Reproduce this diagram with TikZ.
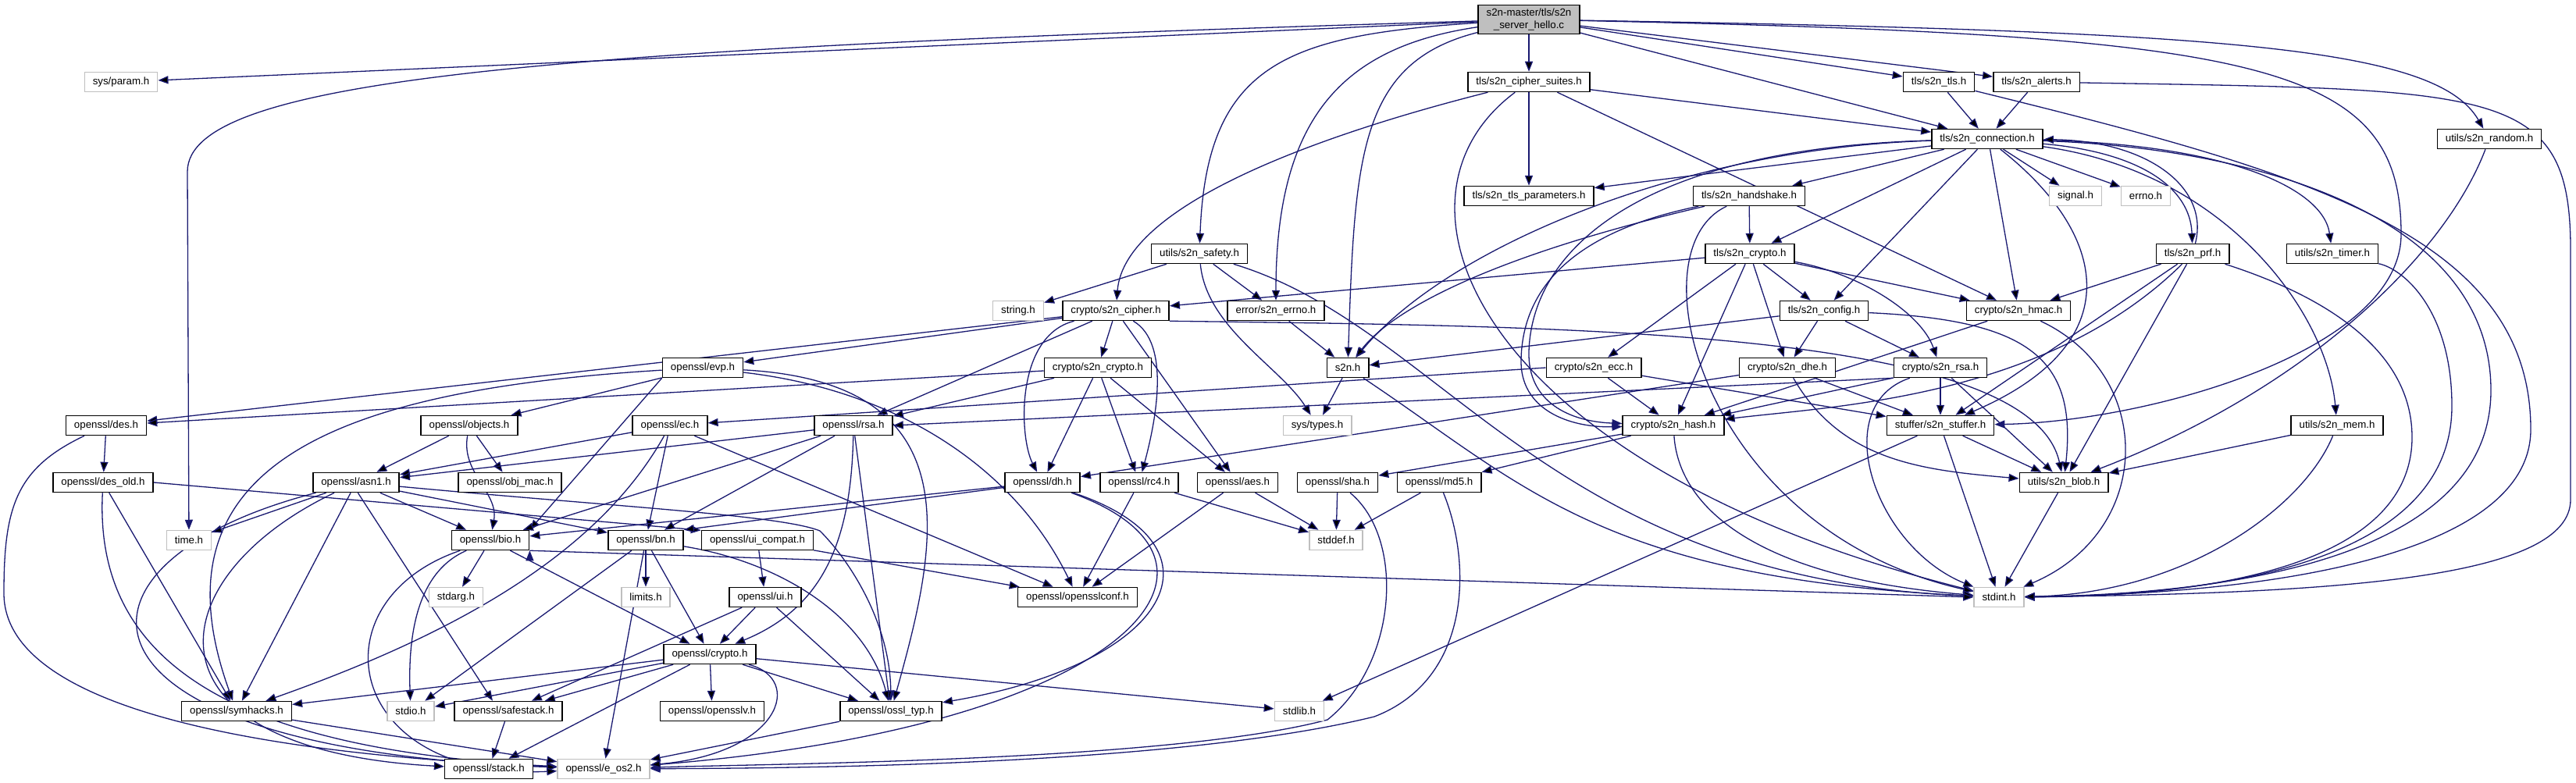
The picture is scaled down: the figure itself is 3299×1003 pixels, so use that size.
\documentclass[tikz,border=0pt]{standalone}
\usepackage{fontspec}
\newfontfamily\dotfont{Liberation Sans}
\usetikzlibrary{arrows.meta}

\definecolor{edgeblue}{HTML}{191970}
\definecolor{boxgray}{HTML}{BFBFBF}
\pgfdeclarelayer{back}
\pgfsetlayers{back,main}

\begin{document}
\begin{tikzpicture}[x=1pt, y=-1pt,
	file/.style={draw=black, fill=white, line width=1.5pt, minimum height=25pt,
		inner xsep=10.5pt, inner ysep=0pt, font=\dotfont\fontsize{13.3}{15.5}\selectfont},
	sys/.style={file, draw=boxgray},
	inc/.style={draw=edgeblue, line width=1.3pt, -{Triangle[length=13pt, width=10pt]}},
	via/.style 2 args={to path={.. controls #1 and #2 .. (\tikztotarget)}}]

	\useasboundingbox (0,0) rectangle (3299,1003);

	\node[file, fill=boxgray, align=center, minimum height=37pt] (root) at (1958,25) {s2n-master/tls/s2n\\\_server\_hello.c};

	\node[sys] (param) at (155,105) {sys/param.h};
	\node[file] (suites) at (1958,105) {tls/s2n\_cipher\_suites.h};
	\node[file] (tls) at (2483,105) {tls/s2n\_tls.h};
	\node[file] (alerts) at (2608,105) {tls/s2n\_alerts.h};
	\node[file] (conn) at (2545,178) {tls/s2n\_connection.h};
	\node[file] (random) at (3188,178) {utils/s2n\_random.h};
	\node[file] (params) at (1958,251) {tls/s2n\_tls\_parameters.h};
	\node[file] (handshake) at (2240,251) {tls/s2n\_handshake.h};
	\node[sys] (signal) at (2658,251) {signal.h};
	\node[sys] (errno) at (2748,251) {errno.h};
	\node[file] (safety) at (1536,325) {utils/s2n\_safety.h};
	\node[file] (tcrypto) at (2241,325) {tls/s2n\_crypto.h};
	\node[file] (prf) at (2808,325) {tls/s2n\_prf.h};
	\node[file] (timer) at (2987,325) {utils/s2n\_timer.h};
	\node[sys] (string) at (1304,398) {string.h};
	\node[file] (cipher) at (1429,398) {crypto/s2n\_cipher.h};
	\node[file] (errcode) at (1634,398) {error/s2n\_errno.h};
	\node[file] (config) at (2336,398) {tls/s2n\_config.h};
	\node[file] (hmac) at (2585,398) {crypto/s2n\_hmac.h};
	\node[file] (evp) at (900,471) {openssl/evp.h};
	\node[file] (ccrypto) at (1406,471) {crypto/s2n\_crypto.h};
	\node[file] (s2n) at (1726,471) {s2n.h};
	\node[file] (ecc) at (2041,471) {crypto/s2n\_ecc.h};
	\node[file] (dhe) at (2289,471) {crypto/s2n\_dhe.h};
	\node[file] (rsakey) at (2485,471) {crypto/s2n\_rsa.h};
	\node[file] (des) at (136,545) {openssl/des.h};
	\node[file] (objects) at (601,545) {openssl/objects.h};
	\node[file] (ec) at (858,545) {openssl/ec.h};
	\node[file] (rsa) at (1093,545) {openssl/rsa.h};
	\node[sys] (types) at (1687,545) {sys/types.h};
	\node[file] (hash) at (2143,545) {crypto/s2n\_hash.h};
	\node[file] (stuffer) at (2485,545) {stuffer/s2n\_stuffer.h};
	\node[file] (mem) at (2993,545) {utils/s2n\_mem.h};
	\node[file] (desold) at (132,618) {openssl/des\_old.h};
	\node[file] (asn1) at (456,618) {openssl/asn1.h};
	\node[file] (objmac) at (653,618) {openssl/obj\_mac.h};
	\node[file] (dh) at (1335,618) {openssl/dh.h};
	\node[file] (rc4) at (1459,618) {openssl/rc4.h};
	\node[file] (aes) at (1585,618) {openssl/aes.h};
	\node[file] (sha) at (1713,618) {openssl/sha.h};
	\node[file] (md5) at (1843,618) {openssl/md5.h};
	\node[file] (blob) at (2643,618) {utils/s2n\_blob.h};
	\node[sys] (time) at (242,692) {time.h};
	\node[file] (bio) at (628,692) {openssl/bio.h};
	\node[file] (bn) at (827,692) {openssl/bn.h};
	\node[file] (uicompat) at (970,692) {openssl/ui\_compat.h};
	\node[sys] (stddef) at (1711,692) {stddef.h};
	\node[sys] (stdarg) at (584,765) {stdarg.h};
	\node[sys] (limits) at (827,765) {limits.h};
	\node[file] (ui) at (980,765) {openssl/ui.h};
	\node[file] (conf) at (1380,765) {openssl/opensslconf.h};
	\node[sys] (stdint) at (2560,765) {stdint.h};
	\node[file] (ocrypto) at (909,838) {openssl/crypto.h};
	\node[file] (symhacks) at (303,911) {openssl/symhacks.h};
	\node[sys] (stdio) at (526,911) {stdio.h};
	\node[file] (safestack) at (651,911) {openssl/safestack.h};
	\node[file] (opensslv) at (912,911) {openssl/opensslv.h};
	\node[file] (ossltyp) at (1141,911) {openssl/ossl\_typ.h};
	\node[sys] (stdlib) at (1664,911) {stdlib.h};
	\node[file] (stack) at (626,985) {openssl/stack.h};
	\node[sys] (eos2) at (773,985) {openssl/e\_os2.h};

	\begin{pgfonlayer}{back}
	\draw[inc] (root) .. controls (700,62) and (240,100) .. (240,220) -- (time);
	\draw[inc] (root) .. controls (2900,45) and (3075,80) .. (3075,300) .. controls (3075,450) and (2750,540) .. (stuffer);
	\draw[inc] (tls) .. controls (2950,220) and (3241,300) .. (3241,550) .. controls (3241,700) and (2950,760) .. (stdint);
	\draw[inc] (alerts) .. controls (3200,115) and (3292,110) .. (3292,320) -- (3292,640) .. controls (3292,740) and (3000,760) .. (stdint);
	\draw[inc] (conn) .. controls (2900,190) and (3190,280) .. (3190,500) .. controls (3190,700) and (2900,760) .. (stdint);
	\draw[inc] (timer) .. controls (3080,345) and (3140,400) .. (3140,520) .. controls (3140,700) and (2900,762) .. (stdint);
	\draw[inc] (prf) .. controls (2980,380) and (3089,450) .. (3089,560) .. controls (3089,700) and (2900,763) .. (stdint);
	\draw[inc] (conn) .. controls (2100,190) and (1962,320) .. (1958,450) .. controls (1956,515) and (2010,540) .. (hash);
	\draw[inc] (handshake) .. controls (2000,300) and (1950,380) .. (1948,460) .. controls (1946,525) and (2010,548) .. (hash);
	\draw[inc] (des) .. controls (20,600) and (5,650) .. (5,760) .. controls (5,900) and (300,965) .. (eos2);
	\draw[inc] (sha) .. controls (1800,690) and (1790,850) .. (1700,922) .. controls (1500,975) and (1000,978) .. (eos2);
	\draw[inc] (md5) .. controls (1885,720) and (1885,870) .. (1760,918) .. controls (1500,982) and (1000,984) .. (eos2);
	\draw[inc] (asn1) .. controls (800,650) and (1000,660) .. (1050,680) .. controls (1090,720) and (1140,800) .. (ossltyp);

	\draw[inc]
	(root) edge (param)
	(root) edge[via={(1650,45)}{(1545,80)}] (safety)
	(root) edge[via={(1720,60)}{(1634,150)}] (errcode)
	(root) edge[via={(1740,80)}{(1735,200)}] (s2n)
	(root) edge (suites)
	(root) edge (tls)
	(root) edge (alerts)
	(root) edge (conn)
	(root) edge[via={(2850,40)}{(3120,60)}] (random)
	(suites) edge[via={(1700,170)}{(1440,260)}] (cipher)
	(suites) edge (params)
	(suites) edge (conn)
	(suites.-20) edge (hmac)
	(suites) edge[via={(1750,260)}{(1900,600)}] (stdint)
	(tls) edge (conn)
	(alerts) edge (conn)
	(conn) edge (signal)
	(conn) edge (errno)
	(conn) edge (params)
	(conn) edge (handshake)
	(conn) edge (tcrypto)
	(conn) edge (config)
	(conn.-75) edge (hmac)
	(conn) edge[via={(2700,300)}{(2730,440)}] (stuffer)
	(conn) edge[via={(2740,195)}{(2805,240)}] (prf)
	(conn) edge[via={(2850,185)}{(2975,240)}] (timer)
	(conn) edge[via={(2850,220)}{(2980,400)}] (mem)
	(conn) edge[via={(2150,190)}{(1850,320)}] (s2n)
	(handshake) edge (tcrypto)
	(handshake) edge[via={(1900,330)}{(1780,400)}] (s2n)
	(handshake) edge[via={(2090,320)}{(2180,680)}] (stdint)
	(tcrypto) edge (cipher)
	(tcrypto) edge (hmac)
	(tcrypto) edge (hash)
	(tcrypto) edge (ecc)
	(tcrypto) edge (dhe)
	(tcrypto) edge (config)
	(tcrypto) edge[via={(2380,350)}{(2460,400)}] (rsakey)
	(safety) edge (string)
	(safety) edge (errcode)
	(safety) edge[via={(1545,420)}{(1640,470)}] (types)
	(safety) edge[via={(1850,420)}{(1980,740)}] (stdint)
	(cipher) edge (evp)
	(cipher) edge (des)
	(cipher) edge (rsa)
	(cipher) edge[via={(1300,430)}{(1305,560)}] (dh)
	(cipher) edge (ccrypto)
	(cipher) edge[via={(1500,440)}{(1480,540)}] (rc4)
	(cipher) edge (aes)
	(cipher.south east) edge[via={(2000,418)}{(2600,420)}] (blob)
	(ccrypto) edge (des)
	(ccrypto) edge (rsa)
	(ccrypto) edge (dh)
	(ccrypto) edge (rc4)
	(ccrypto) edge (aes)
	(errcode) edge (s2n)
	(s2n) edge (types)
	(s2n) edge[via={(1950,620)}{(2050,740)}] (stdint)
	(ecc.west) edge (ec)
	(ecc) edge (hash)
	(ecc) edge (stuffer)
	(dhe) edge (dh)
	(dhe) edge (stuffer)
	(dhe) edge[out=-60, in=175] (blob)
	(rsakey.south west) edge (rsa.east)
	(rsakey) edge (hash)
	(rsakey) edge (stuffer)
	(rsakey) edge (blob)
	(rsakey) edge[via={(2340,520)}{(2400,700)}] (stdint)
	(config) edge (s2n)
	(config) edge (dhe)
	(config) edge (rsakey)
	(config) edge[via={(2600,410)}{(2660,460)}] (blob)
	(hmac) edge (hash)
	(hmac) edge[via={(2760,480)}{(2760,680)}] (stdint)
	(prf) edge (hmac)
	(prf) edge (stuffer)
	(prf) edge (blob)
	(prf) edge[via={(2620,510)}{(2350,520)}] (hash)
	(prf) edge[via={(2830,240)}{(2750,180)}] (conn)
	(mem) edge (blob)
	(mem) edge[via={(2950,650)}{(2800,760)}] (stdint)
	(random) edge[via={(3130,330)}{(2950,500)}] (blob)
	(stuffer) edge (blob)
	(stuffer) edge (stdint)
	(stuffer) edge (stdlib)
	(blob) edge (stdint)
	(hash) edge (sha)
	(hash) edge (md5)
	(hash) edge[via={(2150,650)}{(2250,740)}] (stdint)
	(des) edge (desold)
	(desold.east) edge (uicompat.170)
	(desold) edge (symhacks)
	(desold) edge[via={(120,850)}{(300,960)}] (eos2)
	(evp) edge (objects)
	(evp.south west) edge (bio.north east)
	(evp) edge[via={(420,500)}{(190,600)}] (symhacks)
	(evp) edge[via={(1250,490)}{(1200,700)}] (ossltyp)
	(evp) edge[via={(1150,500)}{(1300,600)}] (conf)
	(objects) edge (asn1)
	(objects) edge (objmac)
	(objects) edge[out=-100, in=80] (bio)
	(ec) edge (asn1)
	(ec) edge[via={(760,720)}{(560,820)}] (symhacks)
	(ec) edge (bn)
	(ec) edge (conf)
	(rsa) edge (asn1)
	(rsa) edge (bio)
	(rsa) edge (bn)
	(rsa) edge[via={(1090,700)}{(1050,780)}] (ocrypto)
	(rsa) edge (ossltyp)
	(asn1) edge (time)
	(asn1) edge (symhacks)
	(asn1) edge (bio)
	(asn1) edge (bn)
	(asn1.-80) edge ([xshift=-20pt]safestack.north)
	(asn1) edge[via={(200,740)}{(170,960)}] (stack)
	(asn1) edge[via={(60,720)}{(60,960)}] (eos2)
	(dh) edge (bio)
	(dh) edge (bn.north east)
	(dh) edge[via={(1580,700)}{(1500,850)}] (ossltyp)
	(dh) edge[via={(1620,720)}{(1450,930)}] (eos2)
	(rc4) edge (conf)
	(rc4) edge (stddef)
	(aes) edge (conf)
	(aes) edge (stddef)
	(sha) edge (stddef)
	(md5) edge (stddef)
	(bio) edge (stdarg)
	(bio) edge[via={(540,730)}{(522,800)}] (stdio)
	(bio) edge[via={(400,770)}{(440,1000)}] (eos2)
	(bio) edge (ocrypto)
	(bio.south east) edge (stdint.west)
	(bn) edge (limits)
	(bn) edge (stdio)
	(bn) edge (eos2)
	(bn) edge (ocrypto)
	(bn) edge[via={(1000,720)}{(1110,790)}] (ossltyp)
	(uicompat) edge (ui)
	(uicompat) edge (conf)
	(ui) edge (ocrypto)
	(ui) edge (safestack)
	(ui) edge (ossltyp)
	(ocrypto) edge (opensslv)
	(ocrypto) edge (ossltyp)
	(ocrypto) edge (stdlib)
	(ocrypto) edge[via={(1030,870)}{(1000,965)}] (eos2)
	(ocrypto) edge (stdio)
	(ocrypto) edge (safestack)
	(ocrypto) edge (symhacks)
	(ocrypto) edge (stack)
	(ossltyp) edge (eos2)
	(symhacks) edge (eos2)
	(safestack) edge (stack);
	\end{pgfonlayer}

\end{tikzpicture}
\end{document}
